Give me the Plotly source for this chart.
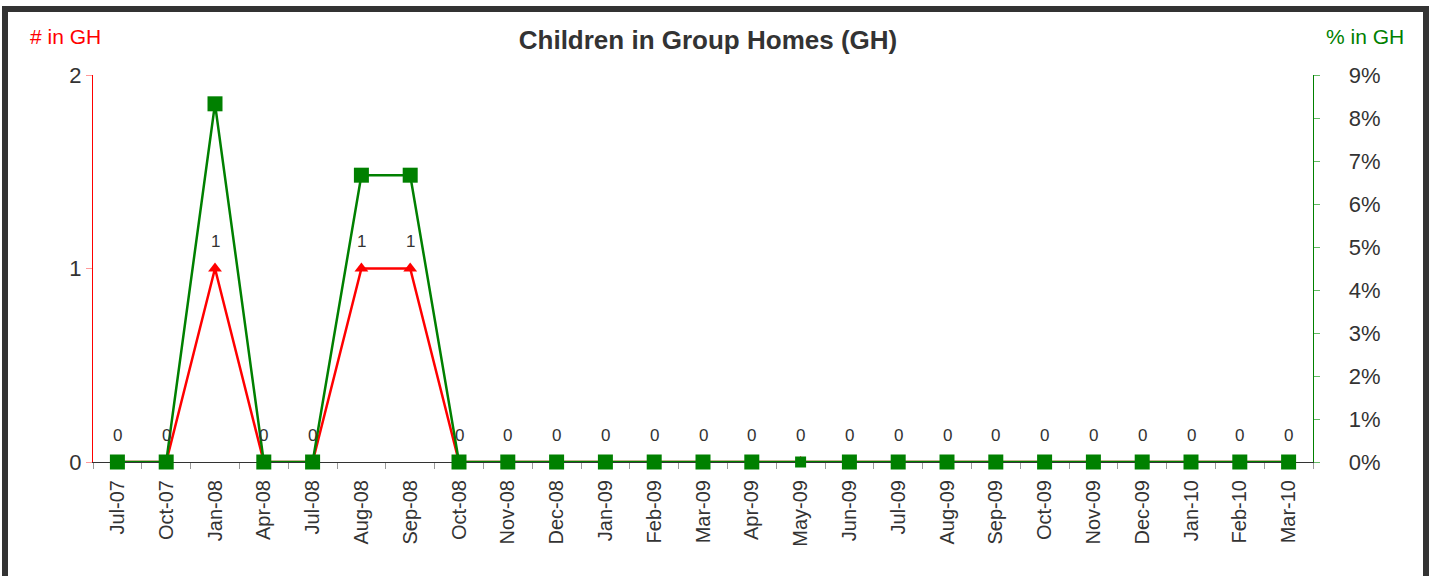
import plotly.graph_objects as go

# dados
months = ['Jul-07', 'Oct-07', 'Jan-08', 'Apr-08', 'Jul-08', 'Aug-08', 'Sep-08', 'Oct-08',
          'Nov-08', 'Dec-08', 'Jan-09', 'Feb-09', 'Mar-09', 'Apr-09', 'May-09', 'Jun-09',
          'Jul-09', 'Aug-09', 'Sep-09', 'Oct-09', 'Nov-09', 'Dec-09', 'Jan-10', 'Feb-10', 'Mar-10']
count_gh = [0, 0, 1, 0, 0, 1, 1, 0, 0, 0, 0, 0, 0, 0, 0, 0, 0, 0, 0, 0, 0, 0, 0, 0, 0]
pct_gh = [0, 0, 0.0833, 0, 0, 0.0667, 0.0667, 0, 0, 0, 0, 0, 0, 0, 0, 0, 0, 0, 0, 0, 0, 0, 0, 0, 0]

W, H = 1432, 576
L, R, T, B = 93, 119, 75, 114
pw, ph = W - L - R, H - T - B


def px(x):
    return (x - L) / pw


def py(y):
    return (T + ph - y) / ph


TXT = '#333333'
FONT = 'Liberation Sans, Arial, sans-serif'

fig = go.Figure()

# contagem (eixo esquerdo)
fig.add_trace(go.Scatter(
    x=months, y=count_gh, name='# in GH', mode='lines+markers',
    line=dict(color='#ff0000', width=2.5),
    marker=dict(symbol='triangle-up', size=12, color='#ff0000', opacity=1),
    cliponaxis=True, yaxis='y'
))

# percentual (eixo direito, sobreposto)
sizes = [15] * len(months)
sizes[months.index('May-09')] = 11
fig.add_trace(go.Scatter(
    x=months, y=pct_gh, name='% in GH', mode='lines+markers',
    line=dict(color='#008000', width=2.5),
    marker=dict(symbol='square', size=sizes, color='#008000', opacity=1,
                line=dict(width=0)),
    cliponaxis=False, yaxis='y2'
))

# rótulos de dados
for m, v in zip(months, count_gh):
    fig.add_annotation(x=m, y=v, yref='y', text=str(v), showarrow=False,
                       yshift=27, font=dict(size=17, color=TXT, family=FONT))

# moldura
fig.add_shape(type='rect', xref='paper', yref='paper',
              x0=px(5), x1=px(1426), y0=py(620), y1=py(9),
              line=dict(color='#333333', width=6), fillcolor='rgba(0,0,0,0)', layer='above')

fig.add_annotation(xref='paper', yref='paper', x=px(28), y=py(36),
                   xanchor='left', yanchor='middle', text='# in GH', showarrow=False,
                   font=dict(size=21, color='#ff0000', family=FONT))
fig.add_annotation(xref='paper', yref='paper', x=px(1406), y=py(36),
                   xanchor='right', yanchor='middle', text='% in GH', showarrow=False,
                   font=dict(size=21, color='#008000', family=FONT))

fig.update_layout(
    width=W, height=H,
    margin=dict(l=L, r=R, t=T, b=B),
    paper_bgcolor='white', plot_bgcolor='white',
    showlegend=False,
    title=dict(text='<b>Children in Group Homes (GH)</b>', x=708 / W, xanchor='center',
               y=1 - 40 / H, yanchor='middle',
               font=dict(size=26, color=TXT, family=FONT)),
    font=dict(family=FONT, color=TXT),
    xaxis=dict(
        type='category', tickangle=-90, tickson='boundaries',
        ticks='outside', ticklen=6, tickcolor='#999999',
        showline=True, linecolor='#333333', linewidth=1, layer='below traces',
        showgrid=False, zeroline=False,
        tickfont=dict(size=20, color=TXT), ticklabelstandoff=9,
        range=[-0.5, len(months) - 0.5]
    ),
    yaxis=dict(
        range=[0, 2], tickvals=[0, 1, 2], showgrid=False, zeroline=False,
        showline=True, linecolor='#ff0000', linewidth=1, layer='below traces',
        ticks='outside', ticklen=6, tickcolor='#ff9999',
        tickfont=dict(size=22, color=TXT), ticksuffix='\u00a0\u00a0'
    ),
    yaxis2=dict(
        overlaying='y', side='right', range=[0, 0.09], dtick=0.01, tickformat='.0%',
        tickprefix='\u00a0\u00a0\u00a0\u00a0',
        showgrid=False, zeroline=False,
        showline=True, linecolor='#008000', linewidth=1, layer='below traces',
        ticks='outside', ticklen=6, tickcolor='#66bb66',
        tickfont=dict(size=22, color=TXT)
    ),
)

fig.write_html("out.html", config={'displayModeBar': False},
               post_script="document.body.style.margin='0';")
